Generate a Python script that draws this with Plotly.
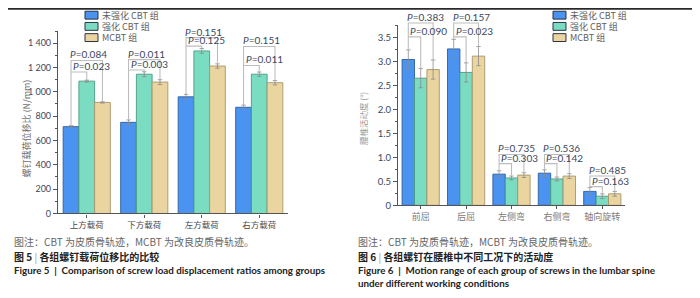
import plotly.graph_objects as go

W, H = 700, 298

# ---------------- data ----------------
groups = ["未强化 CBT 组", "强化 CBT 组", "MCBT 组"]

# Figure 5: screw load displacement ratio (N/mm)
load_cats = ["上方载荷", "下方载荷", "左方载荷", "右方载荷"]
load_uncbt = [714, 749, 959, 873]
load_cbt = [1088, 1145, 1336, 1145]
load_mcbt = [913, 1080, 1212, 1075]
load_uncbt_err = [8, 20, 20, 18]
load_cbt_err = [8, 20, 20, 18]
load_mcbt_err = [5, 20, 18, 18]
load_p_outer = ["0.084", "0.011", "0.151", "0.151"]
load_p_inner = ["0.023", "0.003", "0.125", "0.011"]
load_br_outer = [1258, 1265, 1446, 1373]
load_br_inner = [1163, 1180, 1376, 1217]

# Figure 6: range of motion (deg)
rom_cats = ["前屈", "后屈", "左侧弯", "右侧弯", "轴向旋转"]
rom_uncbt = [3.04, 3.26, 0.65, 0.67, 0.29]
rom_cbt = [2.65, 2.77, 0.57, 0.55, 0.19]
rom_mcbt = [2.83, 3.11, 0.63, 0.61, 0.24]
rom_uncbt_err = [0.20, 0.20, 0.07, 0.07, 0.08]
rom_cbt_err = [0.20, 0.20, 0.04, 0.04, 0.05]
rom_mcbt_err = [0.20, 0.20, 0.05, 0.05, 0.05]
rom_p_outer = ["0.383", "0.157", "0.735", "0.536", "0.485"]
rom_p_inner = ["0.090", "0.023", "0.303", "0.142", "0.163"]
rom_br_outer = [3.80, 3.80, 1.06, 1.06, 0.61]
rom_br_inner = [3.51, 3.51, 0.87, 0.87, 0.39]

# ---------------- styles ----------------
fills = ["#4a93f0", "#7adcc0", "#ead49f"]
edges = ["#2e5c9c", "#4c9a84", "#a8956a"]
CJK = "Noto Sans CJK SC"
LAT = "Lato"
TXT = "#3d475e"
BARGAP = 0.18
BW = (1 - BARGAP) / 3

def px_x(p):
    return p / W

def px_y(p):
    return 1 - p / H

# plot-area geometry (pixels)
L_dom_x = [px_x(50), px_x(280)]
L_dom_y = [px_y(209), px_y(23.4)]
R_dom_x = [px_x(390), px_x(617)]
R_dom_y = [px_y(200.7), px_y(17.7)]
L_range = [0, 1500]
R_range = [0, 3.75]

fig = go.Figure()

def add_bars(xa, ya, cats, series, errs):
    for k, (vals, err) in enumerate(zip(series, errs)):
        fig.add_trace(go.Bar(
            x=list(range(len(cats))), y=vals, name=groups[k],
            xaxis=xa, yaxis=ya, showlegend=False,
            marker=dict(color=fills[k], line=dict(color=edges[k], width=0.9)),
            error_y=dict(type="data", array=err, color="#8a8a8a",
                         thickness=0.8, width=2.2),
        ))

add_bars("x", "y", load_cats, [load_uncbt, load_cbt, load_mcbt],
         [load_uncbt_err, load_cbt_err, load_mcbt_err])
add_bars("x2", "y2", rom_cats, [rom_uncbt, rom_cbt, rom_mcbt],
         [rom_uncbt_err, rom_cbt_err, rom_mcbt_err])

annotations = []

def add_brackets(xa, ya_ext, series, errs, outer, inner, p_out, p_in):
    b, g, t = series
    eb, eg, et = errs
    for i in range(len(outer)):
        xb, xg, xt = i - BW, i, i + BW
        xs = [xb, xb, xt, xt, None, xb, xg, xg]
        ys = [b[i] + eb[i], outer[i], outer[i], t[i] + et[i], None,
              inner[i], inner[i], g[i] + eg[i]]
        fig.add_trace(go.Scatter(
            x=xs, y=ys, mode="lines", xaxis=xa, yaxis=ya_ext,
            showlegend=False, hoverinfo="skip",
            line=dict(color="#bdbdbd", width=1.1),
        ))
        for lvl, p, sh in [(outer[i], p_out[i], -3), (inner[i], p_in[i], 0)]:
            annotations.append(dict(
                x=xb, y=lvl, xref=xa, yref=ya_ext, xanchor="left",
                yanchor="bottom", xshift=sh, yshift=-2, showarrow=False,
                text=f"<i>P</i>={p}",
                font=dict(family=LAT, size=10, color=TXT),
            ))

add_brackets("x", "y3", [load_uncbt, load_cbt, load_mcbt],
             [load_uncbt_err, load_cbt_err, load_mcbt_err],
             load_br_outer, load_br_inner, load_p_outer, load_p_inner)
add_brackets("x2", "y4", [rom_uncbt, rom_cbt, rom_mcbt],
             [rom_uncbt_err, rom_cbt_err, rom_mcbt_err],
             rom_br_outer, rom_br_inner, rom_p_outer, rom_p_inner)

def ext_axis(dom, rng, anchor):
    b, t = dom
    top = rng[0] + (rng[1] - rng[0]) * (1 - b) / (t - b)
    return dict(domain=[b, 1], range=[rng[0], top], visible=False,
                anchor=anchor, fixedrange=True)

axis_common = dict(showline=True, linecolor="#555", linewidth=1.2,
                   showgrid=False, zeroline=False, ticks="outside",
                   tickcolor="#555", tickwidth=1)

fig.update_layout(
    width=W, height=H, margin=dict(l=0, r=0, t=0, b=0),
    paper_bgcolor="white", plot_bgcolor="rgba(0,0,0,0)",
    barmode="group", bargap=BARGAP, bargroupgap=0,
    separators=". ", showlegend=False,
    xaxis=dict(domain=L_dom_x, range=[-0.5, 3.5], anchor="y",
               tickvals=list(range(4)), ticktext=load_cats, ticklen=3,
               tickfont=dict(family=CJK, size=8.5, color="#4a4a4a"),
               **axis_common),
    yaxis=dict(domain=L_dom_y, range=L_range, anchor="x",
               tickmode="linear", tick0=0, dtick=200, ticklen=4,
               separatethousands=True,
               minor=dict(dtick=100, ticklen=2, ticks="outside", tickcolor="#555"),
               tickfont=dict(family=LAT, size=9, color=TXT),
               **axis_common),
    xaxis2=dict(domain=R_dom_x, range=[-0.5, 4.5], anchor="y2",
                tickvals=list(range(5)), ticktext=rom_cats, ticklen=3,
                tickfont=dict(family=CJK, size=9, color="#7a7a7a"),
                **axis_common),
    yaxis2=dict(domain=R_dom_y, range=R_range, anchor="x2",
                tickvals=[0, 0.5, 1, 1.5, 2, 2.5, 3, 3.5],
                ticktext=["0", "0.5", "1.0", "1.5", "2.0", "2.5", "3.0", "3.5"],
                ticklen=4,
                minor=dict(dtick=0.25, ticklen=2, ticks="outside", tickcolor="#555"),
                tickfont=dict(family=LAT, size=9.5, color=TXT),
                **axis_common),
    yaxis3=ext_axis(L_dom_y, L_range, "x"),
    yaxis4=ext_axis(R_dom_y, R_range, "x2"),
)

# axis titles
annotations.append(dict(x=px_x(10), y=px_y(123), xref="paper", yref="paper",
                        text="螺钉载荷位移比 (N/mm)", textangle=-90, showarrow=False,
                        font=dict(family=CJK, size=9, color="#707070")))
annotations.append(dict(x=px_x(355), y=px_y(113), xref="paper", yref="paper",
                        text="腰椎活动度 (°)", textangle=-90, showarrow=False,
                        font=dict(family=CJK, size=8.5, color="#9a9a9a")))

# legends (drawn manually, compact rows)
shapes = []
for lx in (77, 545):
    for k, name in enumerate(groups):
        cy = 7.3 + 11.4 * k
        shapes.append(dict(type="rect", xref="paper", yref="paper",
                           x0=px_x(lx), x1=px_x(lx + 13),
                           y0=px_y(cy + 4), y1=px_y(cy - 4),
                           fillcolor=fills[k], line=dict(color="#2b3345", width=1)))
        annotations.append(dict(x=px_x(lx + 15), y=px_y(cy), xref="paper", yref="paper",
                                xanchor="left", yanchor="middle", text=name,
                                showarrow=False,
                                font=dict(family=CJK, size=9, color="#5e5e5e")))

# top rule
shapes.append(dict(type="line", xref="paper", yref="paper", x0=0, x1=1,
                   y0=px_y(0.8), y1=px_y(0.8), line=dict(color="#2a2a2a", width=1.8)))

# captions
def cap(x, y, text, size, color, family=CJK):
    annotations.append(dict(x=px_x(x), y=px_y(y), xref="paper", yref="paper",
                            xanchor="left", yanchor="middle", text=text,
                            showarrow=False, font=dict(family=family, size=size, color=color)))

note = "图注：CBT 为皮质骨轨迹，MCBT 为改良皮质骨轨迹。"
cap(4, 237.5, note, 10, "#666666")
cap(4, 253, "<b>图 5</b> <span style='color:#999'>|</span> <b>各组螺钉载荷位移比的比较</b>", 10, "#222222")
cap(4, 266, "<b>Figure 5  |  Comparison of screw load displacement ratios among groups</b>",
    9.8, "#222222", LAT)
cap(348, 237.5, note, 10, "#666666")
cap(348, 253, "<b>图 6</b> <span style='color:#999'>|</span> <b>各组螺钉在腰椎中不同工况下的活动度</b>", 10, "#222222")
cap(348, 266, "<b>Figure 6  |  Motion range of each group of screws in the lumbar spine</b>",
    9.8, "#222222", LAT)
cap(348, 280, "<b>under different working conditions</b>", 9.8, "#222222", LAT)

fig.update_layout(annotations=annotations, shapes=shapes)
fig.write_html("out.html")
